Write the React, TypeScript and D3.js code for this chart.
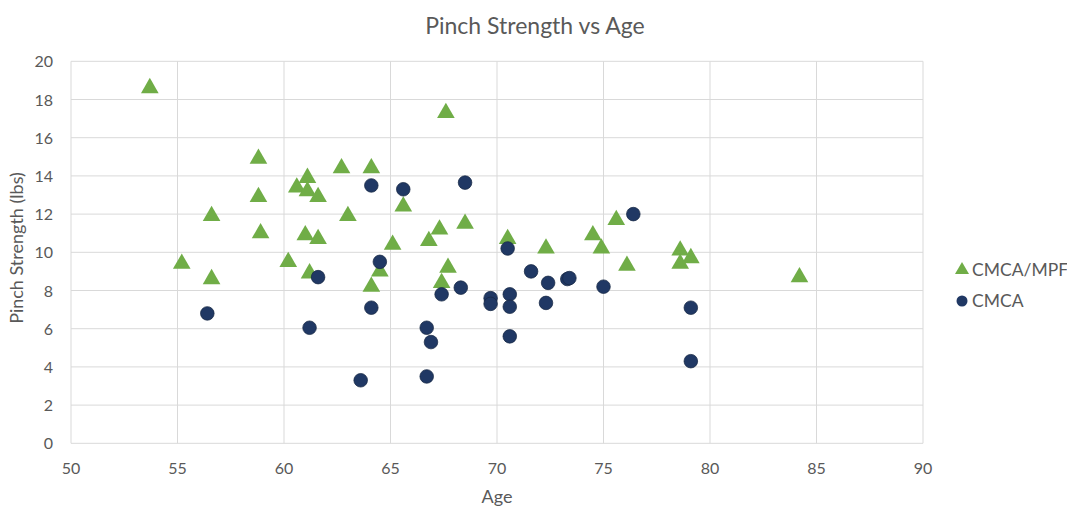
import React from 'react';
import * as d3 from 'd3';

// CMCA/MPF group: [age, pinch strength]
const mpfAges = [53.7, 55.2, 56.6, 56.6, 58.8, 58.8, 58.9, 60.2, 60.6, 61.1, 61.1, 61.0, 61.2, 61.6, 61.6, 62.7, 63.0, 64.1, 64.1, 64.5, 65.1, 65.6, 66.8, 67.3, 67.4, 67.6, 67.7, 68.5, 70.5, 72.3, 74.5, 74.9, 75.6, 76.1, 78.6, 78.6, 79.1, 84.2];
const mpfStrength = [18.6, 9.4, 11.9, 8.6, 14.9, 12.9, 11.0, 9.5, 13.4, 13.9, 13.2, 10.9, 8.9, 12.9, 10.7, 14.4, 11.9, 14.4, 8.2, 9.0, 10.4, 12.4, 10.6, 11.2, 8.4, 17.3, 9.2, 11.5, 10.7, 10.2, 10.9, 10.2, 11.7, 9.3, 10.1, 9.4, 9.7, 8.7];

// CMCA group
const cmcaAges = [56.4, 61.2, 61.6, 63.6, 64.1, 64.1, 64.5, 65.6, 66.7, 66.9, 66.7, 67.4, 68.3, 68.5, 69.7, 69.7, 70.5, 70.6, 70.6, 70.6, 71.6, 72.4, 72.3, 73.3, 73.4, 75.0, 76.4, 79.1, 79.1];
const cmcaStrength = [6.8, 6.05, 8.7, 3.3, 13.5, 7.1, 9.5, 13.3, 6.05, 5.3, 3.5, 7.8, 8.15, 13.65, 7.6, 7.3, 10.2, 7.8, 7.15, 5.6, 9.0, 8.4, 7.35, 8.6, 8.65, 8.2, 12.0, 7.1, 4.3];

const xTicks = [50, 55, 60, 65, 70, 75, 80, 85, 90];
const yTicks = [0, 2, 4, 6, 8, 10, 12, 14, 16, 18, 20];

const seriesNames = ['CMCA/MPF', 'CMCA'];

const W = 1067;
const H = 506;
const FONT = 'Lato, "Open Sans", sans-serif';
const GREEN = '#70AD47';
const NAVY = '#203864';
const TEXT = '#595959';

const App = () => {
  const x = d3.scaleLinear().domain([50, 90]).range([71, 923]);
  const y = d3.scaleLinear().domain([0, 20]).range([443.3, 61.3]);

  const tri = d3.symbol().type(d3.symbolTriangle).size(135)();
  const circ = d3.symbol().type(d3.symbolCircle).size(145)();

  const mpf = mpfAges.map((a, i) => ({ a, v: mpfStrength[i] }));
  const cmca = cmcaAges.map((a, i) => ({ a, v: cmcaStrength[i] }));

  return (
    <svg width={W} height={H} style={{ position: 'absolute', left: 0, top: 0 }} fontFamily={FONT}>
      <rect width={W} height={H} fill="#fff" />
      <text x={535} y={34} textAnchor="middle" fontSize={23} fill={TEXT}>Pinch Strength vs Age</text>

      <g className="grid" stroke="#D9D9D9" strokeWidth={1}>
        {xTicks.map(t => (
          <line key={'gx' + t} x1={x(t)} x2={x(t)} y1={y(0)} y2={y(20)} />
        ))}
        {yTicks.map(t => (
          <line key={'gy' + t} x1={x(50)} x2={x(90)} y1={y(t)} y2={y(t)} />
        ))}
      </g>

      <g className="axis" fill={TEXT} fontSize={16}>
        {yTicks.map(t => (
          <text key={'ty' + t} x={53} y={y(t) + 6} textAnchor="end">{t}</text>
        ))}
        {xTicks.map(t => (
          <text key={'tx' + t} x={x(t)} y={474} textAnchor="middle">{t}</text>
        ))}
      </g>

      <text x={497} y={503} textAnchor="middle" fontSize={18} fill={TEXT}>Age</text>
      <text transform={'translate(23,' + 248 + ') rotate(-90)'} textAnchor="middle" fontSize={18} fill={TEXT}>Pinch Strength (lbs)</text>

      <g className="mpf">
        {mpf.map((d, i) => (
          <path key={'m' + i} d={tri} transform={'translate(' + x(d.a) + ',' + y(d.v) + ')'} fill={GREEN} />
        ))}
      </g>
      <g className="cmca">
        {cmca.map((d, i) => (
          <path key={'c' + i} d={circ} transform={'translate(' + x(d.a) + ',' + y(d.v) + ')'} fill={NAVY} stroke="#172844" strokeWidth={0.75} />
        ))}
      </g>

      <g className="legend" fontSize={17.5} fill={TEXT}>
        <path d={d3.symbol().type(d3.symbolTriangle).size(85)()} transform="translate(962,270)" fill={GREEN} />
        <text x={972} y={276}>{seriesNames[0]}</text>
        <path d={d3.symbol().type(d3.symbolCircle).size(95)()} transform="translate(962,301)" fill={NAVY} />
        <text x={972} y={307}>{seriesNames[1]}</text>
      </g>
    </svg>
  );
};

export default App;
